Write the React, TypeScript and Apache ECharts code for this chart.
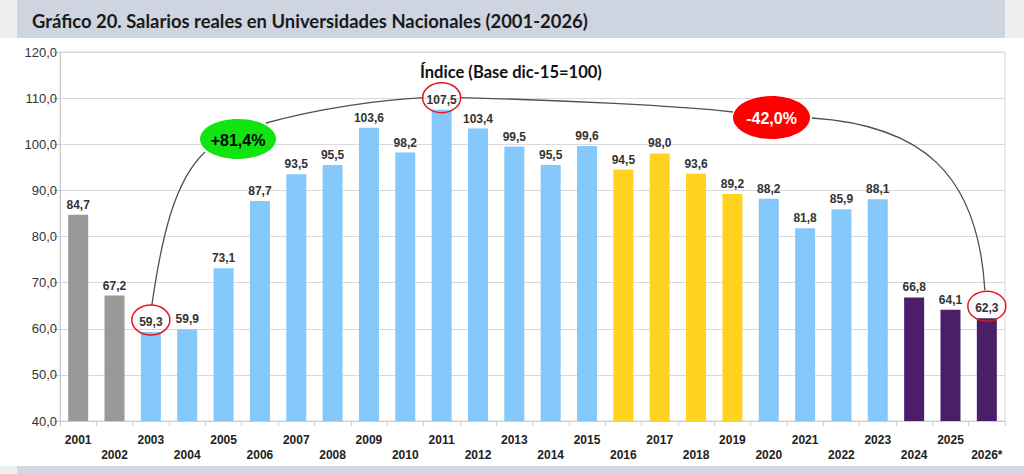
import React, { useEffect, useRef } from "react";
import * as echarts from "echarts";

const categories = [
  "2001", "2002", "2003", "2004", "2005", "2006", "2007", "2008", "2009", "2010",
  "2011", "2012", "2013", "2014", "2015", "2016", "2017", "2018", "2019", "2020",
  "2021", "2022", "2023", "2024", "2025", "2026*",
];
const values = [
  84.7, 67.2, 59.3, 59.9, 73.1, 87.7, 93.5, 95.5, 103.6, 98.2,
  107.5, 103.4, 99.5, 95.5, 99.6, 94.5, 98.0, 93.6, 89.2, 88.2,
  81.8, 85.9, 88.1, 66.8, 64.1, 62.3,
];
const periods = [
  "a", "a", "b", "b", "b", "b", "b", "b", "b", "b",
  "b", "b", "b", "b", "b", "c", "c", "c", "c", "b",
  "b", "b", "b", "d", "d", "d",
];
const highlighted = [2, 10, 25];
const yTicks = { min: 40, max: 120, interval: 10 };
const titleText = "Gráfico 20. Salarios reales en Universidades Nacionales (2001-2026)";
const subtitleText = "Índice (Base dic-15=100)";
const riseText = "+81,4%";
const fallText = "-42,0%";

const palette: Record<string, string> = {
  a: "#999999",
  b: "#85c8fb",
  c: "#ffd320",
  d: "#4b1e6a",
};

const fmt = (v: number) => v.toFixed(1).replace(".", ",");

function fitFont(text: string, family: string, weight: string, target: number, guess: number) {
  try {
    const ctx = document.createElement("canvas").getContext("2d");
    if (!ctx) return guess;
    ctx.font = `${weight} ${guess}px ${family}`;
    const w = ctx.measureText(text).width;
    if (!w) return guess;
    return (guess * target) / w;
  } catch (e) {
    return guess;
  }
}

export default function App() {
  const ref = useRef<HTMLDivElement>(null);
  useEffect(() => {
    document.body.style.margin = "0";
    const chart = echarts.init(ref.current!, undefined, { renderer: "svg" });
    const axisFont = "'Liberation Sans', Arial, sans-serif";
    chart.setOption({
      animation: false,
      backgroundColor: "#ffffff",
      grid: {
        left: 60,
        right: 19,
        top: 52,
        bottom: 53,
        show: true,
        borderColor: "#d6d6d6",
        borderWidth: 1,
        backgroundColor: "transparent",
      },
      xAxis: {
        type: "category",
        data: categories,
        axisLine: { lineStyle: { color: "#cccccc" } },
        axisTick: { show: true, length: 5, lineStyle: { color: "#cccccc" } },
        axisLabel: {
          interval: 0,
          margin: 11,
          fontFamily: axisFont,
          fontWeight: "bold",
          fontSize: 12,
          color: "#222222",
          lineHeight: 15,
          formatter: (v: string, i: number) => (i % 2 === 1 ? "\n" + v : v),
        },
      },
      yAxis: {
        type: "value",
        min: yTicks.min,
        max: yTicks.max,
        interval: yTicks.interval,
        axisLine: { show: true, lineStyle: { color: "#cccccc" } },
        axisTick: { show: true, length: 7, lineStyle: { color: "#cccccc" } },
        splitLine: { lineStyle: { color: "#d9d9d9" } },
        axisLabel: {
          margin: 3,
          fontFamily: axisFont,
          fontSize: 13,
          color: "#333333",
          formatter: (v: number) => fmt(v),
        },
      },
      series: [
        {
          type: "bar",
          barWidth: 20,
          data: values.map((v, i) => ({
            value: v,
            itemStyle: { color: palette[periods[i]] },
          })),
          label: {
            show: true,
            position: "top",
            distance: 4,
            fontFamily: axisFont,
            fontWeight: "bold",
            fontSize: 12,
            color: "#333333",
            formatter: (p: any) => fmt(p.value),
          },
        },
      ],
    });

    const pts = highlighted.map((i) => {
      const p = chart.convertToPixel({ seriesIndex: 0 }, [i, values[i]]) as number[];
      return [p[0], p[1] - 12];
    });
    const [p1, p2, p3] = pts;

    const titleFont = "Lato, 'Open Sans', sans-serif";
    const titleSize = fitFont(titleText, "Lato", "bold", 556, 19);
    const subSize = fitFont(subtitleText, "Lato", "bold", 182, 16);

    const lineStyle = { stroke: "#505050", lineWidth: 1.3, fill: "none" };
    const green = { cx: 238, cy: 139, rx: 38, ry: 20 };
    const red = { cx: 771.5, cy: 117.5, rx: 38.5, ry: 21.5 };

    chart.setOption({
      graphic: [
        { type: "rect", shape: { x: 0, y: 0, width: 1024, height: 38 }, style: { fill: "#efefef" }, silent: true },
        { type: "rect", shape: { x: 17, y: 0, width: 988, height: 38 }, style: { fill: "#cfd4e1" }, silent: true },
        { type: "rect", shape: { x: 0, y: 466, width: 1024, height: 8 }, style: { fill: "#efefef" }, silent: true },
        { type: "rect", shape: { x: 17, y: 466, width: 1007, height: 8 }, style: { fill: "#d3d7e4" }, silent: true },
        {
          type: "text",
          x: 32,
          y: 21,
          style: {
            text: titleText,
            font: `bold ${titleSize.toFixed(2)}px ${titleFont}`,
            fill: "#1a1a1a",
            textVerticalAlign: "middle",
          },
        },
        {
          type: "text",
          x: 420,
          y: 72,
          style: {
            text: subtitleText,
            font: `bold ${subSize.toFixed(2)}px ${titleFont}`,
            fill: "#111111",
            textVerticalAlign: "middle",
          },
        },
        // connector curves
        {
          type: "bezierCurve",
          shape: { x1: p1[0] + 1, y1: p1[1] - 15, cpx1: 162, cpy1: 235, cpx2: 175, cpy2: 180, x2: 205, y2: 152 },
          style: lineStyle,
        },
        {
          type: "bezierCurve",
          shape: { x1: 266, y1: 123, cpx1: 320, cpy1: 108, cpx2: 380, cpy2: 100, x2: p2[0] - 18, y2: p2[1] },
          style: lineStyle,
        },
        {
          type: "bezierCurve",
          shape: { x1: p2[0] + 18, y1: p2[1], cpx1: 560, cpy1: 100, cpx2: 680, cpy2: 106, x2: 733, y2: 112 },
          style: lineStyle,
        },
        {
          type: "bezierCurve",
          shape: { x1: 812, y1: 118, cpx1: 920, cpy1: 125, cpx2: 978, cpy2: 172, x2: p3[0] - 2, y2: p3[1] - 16 },
          style: lineStyle,
        },
        // label circles
        ...pts.map((p) => ({
          type: "ellipse",
          shape: { cx: p[0], cy: p[1], rx: 19, ry: 15 },
          style: { fill: "none", stroke: "#e8151b", lineWidth: 1.5 },
          z: 10,
        })),
        // bubbles
        {
          type: "ellipse",
          shape: green,
          style: { fill: "#11e411" },
          z: 10,
        },
        {
          type: "text",
          x: green.cx,
          y: green.cy + 1,
          z: 11,
          style: {
            text: riseText,
            font: "bold 16px 'Liberation Sans', Arial, sans-serif",
            fill: "#000000",
            textAlign: "center",
            textVerticalAlign: "middle",
          },
        },
        {
          type: "ellipse",
          shape: red,
          style: { fill: "#ff0000" },
          z: 10,
        },
        {
          type: "text",
          x: red.cx,
          y: red.cy + 1,
          z: 11,
          style: {
            text: fallText,
            font: "bold 16px 'Liberation Sans', Arial, sans-serif",
            fill: "#ffffff",
            textAlign: "center",
            textVerticalAlign: "middle",
          },
        },
      ],
    });

    return () => chart.dispose();
  }, []);
  return <div ref={ref} style={{ width: 1024, height: 474 }} />;
}
